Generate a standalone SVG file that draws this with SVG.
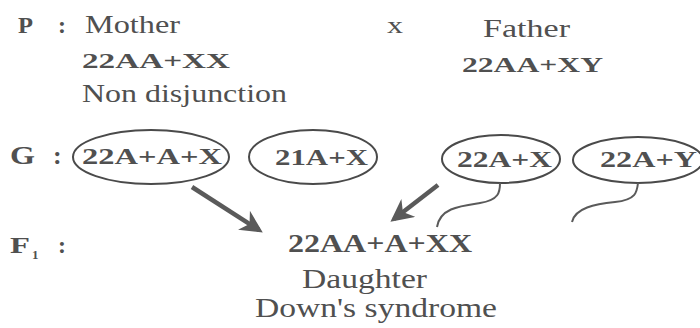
<svg xmlns="http://www.w3.org/2000/svg" width="700" height="328" viewBox="0 0 700 328">
<defs>
<style>
text{fill:#505050}
.b{font-weight:bold}
.ell{fill:none;stroke:#4a4a4a;stroke-width:2}
.arr{fill:none;stroke:#5a5a5a;stroke-width:4.5}
.sq{fill:none;stroke:#5a5a5a;stroke-width:2}
</style>
<marker id="ah" viewBox="0 0 10 10" refX="8" refY="5" markerWidth="5" markerHeight="5" orient="auto" markerUnits="strokeWidth">
<path d="M0,0 L10,5 L0,10 L3,5 Z" fill="#5a5a5a"/>
</marker>
</defs>
<rect width="700" height="328" fill="#fff"/>
<g font-family="'Liberation Serif', 'DejaVu Serif', serif">
<g id="labels">
<text class="b" x="18" y="33" font-size="24" textLength="15" lengthAdjust="spacingAndGlyphs">P</text>
<text class="b" x="58" y="33" font-size="24">:</text>
<text class="b" x="10" y="164" font-size="26" textLength="25" lengthAdjust="spacingAndGlyphs">G</text>
<text class="b" x="53" y="164" font-size="26">:</text>
<text class="b" x="10" y="253" font-size="24" textLength="20" lengthAdjust="spacingAndGlyphs">F</text>
<text class="b" x="32" y="259" font-size="13">1</text>
<text class="b" x="58" y="253" font-size="24">:</text>
<text x="387" y="33" font-size="24" textLength="16" lengthAdjust="spacingAndGlyphs">x</text>
</g>
<g id="mother">
<text x="85" y="33" font-size="26" textLength="95" lengthAdjust="spacingAndGlyphs">Mother</text>
<text class="b" x="82" y="68" font-size="22" textLength="148" lengthAdjust="spacingAndGlyphs">22AA+XX</text>
<text x="82" y="102" font-size="26" textLength="205" lengthAdjust="spacingAndGlyphs">Non disjunction</text>
</g>
<g id="father">
<text x="483" y="37" font-size="26" textLength="87" lengthAdjust="spacingAndGlyphs">Father</text>
<text class="b" x="462" y="72" font-size="22" textLength="141" lengthAdjust="spacingAndGlyphs">22AA+XY</text>
</g>
<g id="g1">
<ellipse class="ell" cx="151" cy="157" rx="78" ry="27"/>
<text class="b" x="82" y="164" font-size="24" textLength="140" lengthAdjust="spacingAndGlyphs">22A+A+X</text>
</g>
<g id="g2">
<ellipse class="ell" cx="313" cy="157" rx="64" ry="27"/>
<text class="b" x="275" y="165" font-size="24" textLength="93" lengthAdjust="spacingAndGlyphs">21A+X</text>
</g>
<g id="g3">
<ellipse class="ell" cx="501" cy="159" rx="59" ry="24"/>
<text class="b" x="457" y="167" font-size="24" textLength="95" lengthAdjust="spacingAndGlyphs">22A+X</text>
</g>
<g id="g4">
<ellipse class="ell" cx="638" cy="160" rx="65" ry="23"/>
<text class="b" x="600" y="167" font-size="24" textLength="97" lengthAdjust="spacingAndGlyphs">22A+Y</text>
</g>
<g id="f1">
<text class="b" x="288" y="252" font-size="26" textLength="184" lengthAdjust="spacingAndGlyphs">22AA+A+XX</text>
<text x="302" y="288" font-size="28" textLength="125" lengthAdjust="spacingAndGlyphs">Daughter</text>
<text x="255" y="317" font-size="28" textLength="242" lengthAdjust="spacingAndGlyphs">Down's syndrome</text>
</g>
</g>
<g id="connectors">
<path class="arr" d="M192,187 L259,230" marker-end="url(#ah)"/>
<path class="arr" d="M438,185 L394,219" marker-end="url(#ah)"/>
<path class="sq" d="M500,183 C500,192 499,200 480,203 C460,206 440,208 437,227"/>
<path class="sq" d="M638,183 C637,192 636,200 615,202 C595,204 575,208 572,222"/>
</g>
</svg>
